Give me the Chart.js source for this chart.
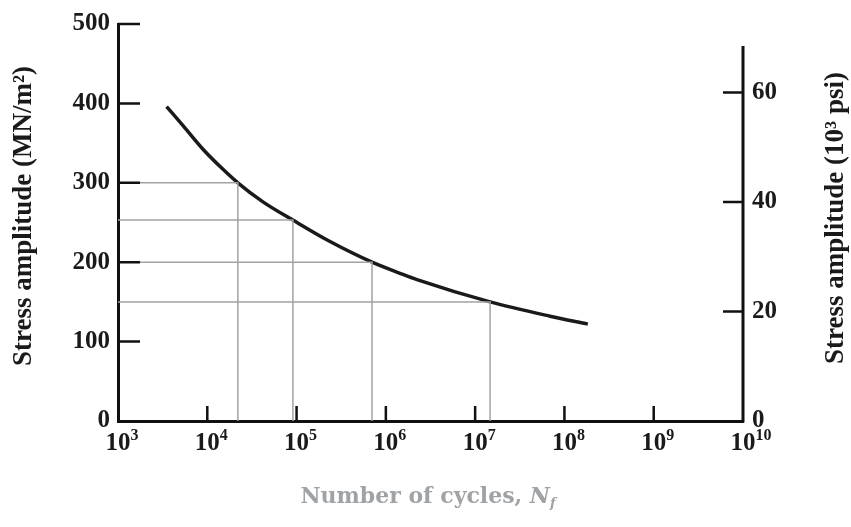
<!DOCTYPE html>
<html>
<head>
<meta charset="utf-8">
<script src="https://cdn.jsdelivr.net/npm/chart.js@4.4.1/dist/chart.umd.min.js"></script>
<style>
  body { margin: 0; background: #fff; }
  #wrap { width: 851px; height: 527px; }
</style>
</head>
<body>
<div id="wrap"><canvas id="snCurve"></canvas></div>
<script>
// S-N curve
const cycles    = [3.5e3, 5.35e3, 9e3, 1.5e4, 2.2e4, 4.2e4, 9.1e4, 2.37e5, 7e5, 1.44e6, 2.23e6, 1.47e7, 6.9e7, 1.83e8];
const stressMPa = [396,   372,    342, 317,   300,   276,   253,   226,    200, 186,    178,    150,    132,   122];

// grey guide lines (stress level -> cycles where they meet the curve)
const refStress = [300, 253, 200, 150];
const refCycles = [2.2e4, 9.1e4, 7e5, 1.47e7];

const xTicks = [1e3, 1e4, 1e5, 1e6, 1e7, 1e8, 1e9, 1e10];
const leftTicks = [0, 100, 200, 300, 400, 500];
const rightTicks = [0, 20, 40, 60];
const rightAxisTop = 68.5;         // right axis line stops here (10^3 psi)
const MPA_PER_KSI = 6.894757;

const serif = '"Liberation Serif", serif';
const ink = '#1a1a1a';

const datasets = [];
refStress.forEach(function(s, i) {
  datasets.push({
    data: [{ x: 1e3, y: s }, { x: refCycles[i], y: s }, { x: refCycles[i], y: 0 }],
    borderColor: '#a3a3a3',
    borderWidth: 1.5,
    pointRadius: 0,
    tension: 0
  });
});
datasets.push({
  data: cycles.map(function(c, i) { return { x: c, y: stressMPa[i] }; }),
  borderColor: ink,
  borderWidth: 3.5,
  pointRadius: 0,
  cubicInterpolationMode: 'monotone'
});

// inward ticks, power-of-ten labels, short right axis line and the axis titles
const extras = {
  id: 'extras',
  afterDraw: function(chart) {
    const ctx = chart.ctx;
    const sx = chart.scales.x, sy = chart.scales.y, sy2 = chart.scales.y2;
    const a = chart.chartArea;
    ctx.save();
    ctx.strokeStyle = '#111';
    ctx.lineWidth = 2.5;
    ctx.beginPath();
    leftTicks.slice(1).forEach(function(v) {
      const y = sy.getPixelForValue(v);
      ctx.moveTo(a.left, y); ctx.lineTo(a.left + 22, y);
    });
    xTicks.slice(1, -1).forEach(function(v) {
      const x = sx.getPixelForValue(v);
      ctx.moveTo(x, a.bottom); ctx.lineTo(x, a.bottom - 15);
    });
    rightTicks.slice(1).forEach(function(v) {
      const y = sy2.getPixelForValue(v);
      ctx.moveTo(a.right - 20, y); ctx.lineTo(a.right, y);
    });
    ctx.stroke();
    ctx.lineWidth = 3;
    ctx.beginPath();
    ctx.moveTo(a.right, sy2.getPixelForValue(rightAxisTop));
    ctx.lineTo(a.right, a.bottom + 1.5);
    ctx.stroke();

    // x tick labels: "10" centred on the tick, exponent raised to its right
    ctx.fillStyle = ink;
    ctx.textBaseline = 'alphabetic';
    xTicks.forEach(function(v) {
      const x = sx.getPixelForValue(v);
      const e = String(Math.round(Math.log10(v)));
      ctx.font = 'bold 25px ' + serif;
      ctx.textAlign = 'center';
      ctx.fillText('10', x, a.bottom + 29);
      const w = ctx.measureText('10').width;
      ctx.font = 'bold 16px ' + serif;
      ctx.textAlign = 'left';
      ctx.fillText(e, x + w / 2, a.bottom + 19);
    });

    ctx.font = 'bold 27px ' + serif;
    ctx.textAlign = 'center';
    ctx.textBaseline = 'middle';
    ctx.save();
    ctx.translate(24, 216);
    ctx.rotate(-Math.PI / 2);
    ctx.fillText('Stress amplitude (MN/m²)', 0, 0);
    ctx.restore();
    ctx.save();
    ctx.translate(836, 218);
    ctx.rotate(-Math.PI / 2);
    ctx.fillText('Stress amplitude (10³ psi)', 0, 0);
    ctx.restore();

    // x title with italic N and subscript f
    const xf = '"DejaVu Serif", serif';
    ctx.fillStyle = '#a0a3a6';
    const t1 = 'Number of cycles, ';
    ctx.font = 'bold 22px ' + xf;
    const w1 = ctx.measureText(t1).width;
    ctx.font = 'italic bold 22px ' + xf;
    const w2 = ctx.measureText('N').width;
    ctx.font = 'italic bold 13px ' + xf;
    const w3 = ctx.measureText('f').width;
    const x0 = 428 - (w1 + w2 + w3) / 2;
    const ty = 503;
    ctx.textAlign = 'left';
    ctx.textBaseline = 'alphabetic';
    ctx.font = 'bold 22px ' + xf;
    ctx.fillText(t1, x0, ty);
    ctx.font = 'italic bold 22px ' + xf;
    ctx.fillText('N', x0 + w1, ty);
    ctx.font = 'italic bold 13px ' + xf;
    ctx.fillText('f', x0 + w1 + w2, ty + 4);
    ctx.restore();
  }
};

const tickFont = { family: serif, size: 25, weight: 'bold' };

new Chart(document.getElementById('snCurve'), {
  type: 'line',
  data: { datasets: datasets },
  options: {
    responsive: true,
    maintainAspectRatio: false,
    animation: false,
    layout: { padding: { top: 20, left: 0, right: 0, bottom: 0 } },
    plugins: { legend: { display: false }, tooltip: { enabled: false }, title: { display: false } },
    scales: {
      x: {
        type: 'logarithmic',
        min: 1e3,
        max: 1e10,
        afterBuildTicks: function(s) { s.ticks = xTicks.map(function(v) { return { value: v }; }); },
        afterFit: function(s) { s.height = 106; },
        ticks: { display: false },
        grid: { display: false, drawTicks: false },
        border: { display: true, color: '#111', width: 3 }
      },
      y: {
        position: 'left',
        min: 0,
        max: 500,
        afterBuildTicks: function(s) { s.ticks = leftTicks.map(function(v) { return { value: v }; }); },
        afterFit: function(s) { s.width = 118; },
        ticks: { color: ink, font: tickFont, padding: 8 },
        grid: { display: false, drawTicks: false },
        border: { display: true, color: '#111', width: 3 }
      },
      y2: {
        position: 'right',
        min: 0,
        max: 500 / MPA_PER_KSI,
        afterBuildTicks: function(s) { s.ticks = rightTicks.map(function(v) { return { value: v }; }); },
        afterFit: function(s) { s.width = 108; },
        ticks: { color: ink, font: tickFont, padding: 9 },
        grid: { display: false, drawTicks: false },
        border: { display: false }
      }
    }
  },
  plugins: [extras]
});
</script>
</body>
</html>
